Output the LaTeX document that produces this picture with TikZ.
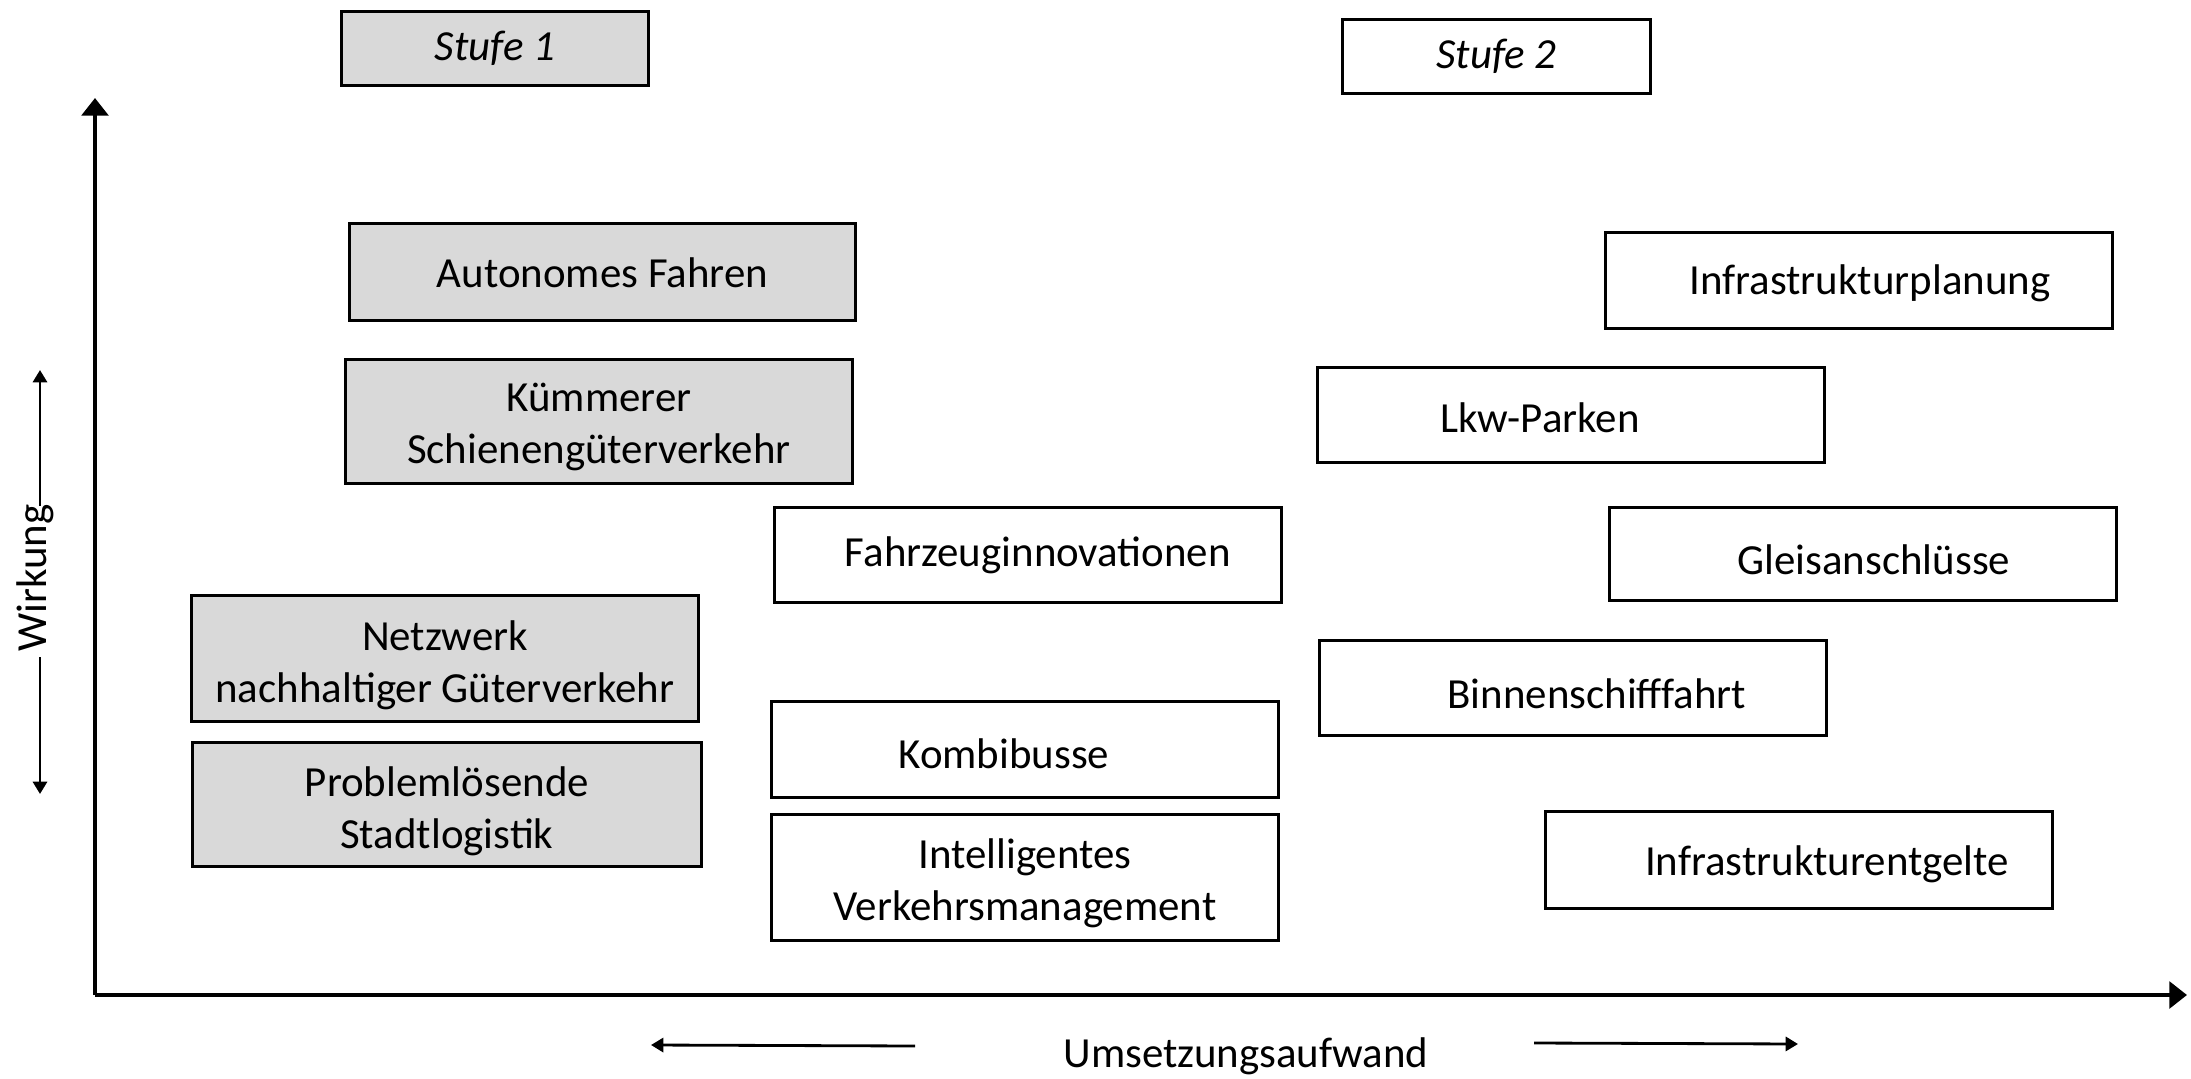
\documentclass[tikz,border=0pt]{standalone}
\usepackage{fontspec}
\setmainfont{Carlito}
\usetikzlibrary{arrows.meta}
\definecolor{boxgray}{HTML}{D9D9D9}
\begin{document}
\begin{tikzpicture}[x=0.01cm,y=-0.01cm,
  every node/.style={font=\fontsize{12.2}{14.8}\selectfont},
  every label/.style={align=center,inner sep=0pt},
  box/.style={draw=black,line width=0.8pt,align=center,inner sep=0pt,anchor=north west},
  graybox/.style={box,fill=boxgray},
  axis/.style={line width=1.2pt,-{Triangle[length=5pt,width=7.5pt]}},
  thin arrow/.style={line width=0.8pt,-{Triangle[length=3.5pt,width=4pt]}}]
\useasboundingbox (0,0) rectangle (2191,1079);
% stage labels
\node[graybox,minimum width=307*0.01cm,minimum height=74*0.01cm] (s1) at (340,10) {\itshape Stufe 1};
\node[box,minimum width=308*0.01cm,minimum height=74*0.01cm] (s2) at (1341,18) {\itshape Stufe 2};
% stage 1 boxes
\node[graybox,minimum width=506*0.01cm,minimum height=97*0.01cm,
  label={[yshift=-0.01cm]center:Autonomes Fahren}] (auto) at (348,222) {};
\node[graybox,minimum width=507*0.01cm,minimum height=124*0.01cm,
  label={[yshift=-0.055cm]center:{Kümmerer\\Schienengüterverkehr}}] (kuem) at (344,358) {};
\node[graybox,minimum width=507*0.01cm,minimum height=126*0.01cm,
  label={[yshift=-0.07cm]center:{Netzwerk\\nachhaltiger Güterverkehr}}] (netz) at (190,594) {};
\node[graybox,minimum width=509*0.01cm,minimum height=124*0.01cm,
  label={[yshift=-0.07cm]center:{Problemlösende\\Stadtlogistik}}] (prob) at (191,741) {};
% middle boxes
\node[box,minimum width=507*0.01cm,minimum height=95*0.01cm,
  label={[xshift=0.1cm]center:Fahrzeuginnovationen}] (fahr) at (773,506) {};
\node[box,minimum width=507*0.01cm,minimum height=96*0.01cm,
  label={[xshift=-0.21cm,yshift=-0.042cm]center:Kombibusse}] (komb) at (770,700) {};
\node[box,minimum width=507*0.01cm,minimum height=126*0.01cm,
  label={[yshift=-0.056cm]center:{Intelligentes\\Verkehrsmanagement}}] (intel) at (770,813) {};
% stage 2 boxes
\node[box,minimum width=507*0.01cm,minimum height=96*0.01cm,
  label={[xshift=0.11cm,yshift=-0.028cm]center:Infrastrukturplanung}] (infp) at (1604,231) {};
\node[box,minimum width=507*0.01cm,minimum height=95*0.01cm,
  label={[xshift=-0.31cm,yshift=-0.028cm]center:Lkw-Parken}] (lkw) at (1316,366) {};
\node[box,minimum width=507*0.01cm,minimum height=93*0.01cm,
  label={[xshift=0.11cm,yshift=-0.056cm]center:Gleisanschlüsse}] (gleis) at (1608,506) {};
\node[box,minimum width=507*0.01cm,minimum height=95*0.01cm,
  label={[xshift=0.24cm,yshift=-0.056cm]center:Binnenschifffahrt}] (binn) at (1318,639) {};
\node[box,minimum width=507*0.01cm,minimum height=97*0.01cm,
  label={[xshift=0.28cm,yshift=-0.042cm]center:Infrastrukturentgelte}] (infe) at (1544,810) {};
% axes
\coordinate (origin) at (95,995);
\coordinate (ytip) at (95,98);
\coordinate (xtip) at (2187,995);
\draw[axis] (origin) -- (ytip);
\draw[axis] (origin) -- (xtip);
% Wirkung label
\node[rotate=90] (wirk) at (35,578) {Wirkung};
\coordinate (wup) at (40,370);
\coordinate (wdown) at (40,794);
\draw[thin arrow] (40,506) -- (wup);
\draw[thin arrow] (40,657) -- (wdown);
% Umsetzungsaufwand label
\node (ums) at (1246,1056) {Umsetzungsaufwand};
\coordinate (uleft) at (651,1045);
\coordinate (uright) at (1798,1044);
\draw[thin arrow] (915,1046) -- (uleft);
\draw[thin arrow] (1534,1043) -- (uright);
\end{tikzpicture}
\end{document}
